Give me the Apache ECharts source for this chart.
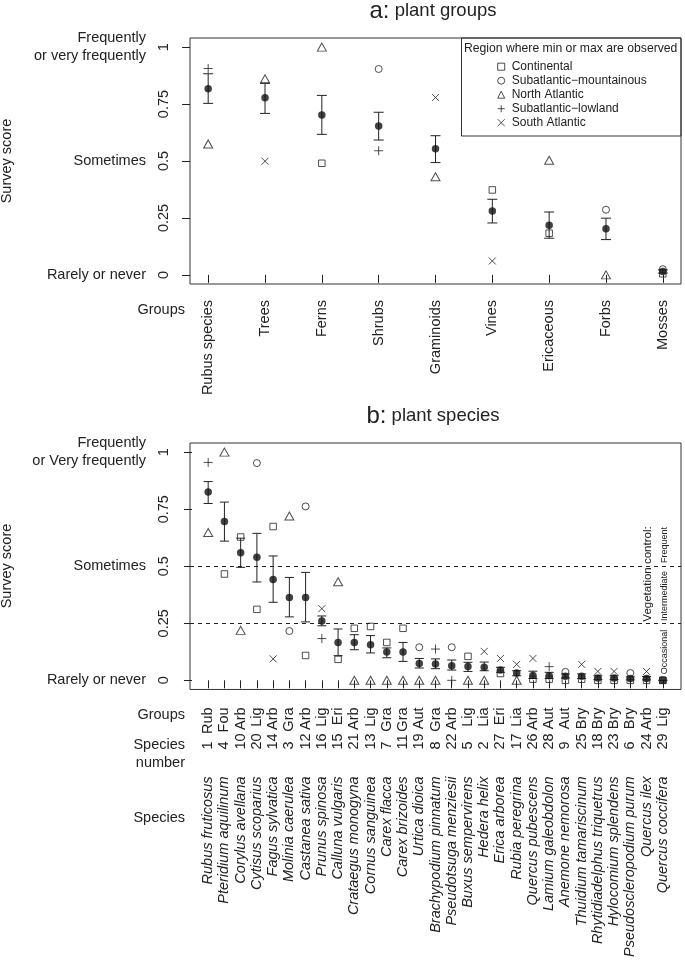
<!DOCTYPE html>
<html>
<head>
<meta charset="utf-8">
<script src="https://cdn.jsdelivr.net/npm/echarts@6/dist/echarts.min.js"></script>
<style>html,body{margin:0;padding:0;background:#fff}#main{width:685px;height:960px}</style>
</head>
<body>
<div id="main"></div>
<script>
// ---------- Panel a: plant groups ----------
const groups = ['Rubus species','Trees','Ferns','Shrubs','Graminoids','Vines','Ericaceous','Forbs','Mosses'];
const groupMean = [0.817,0.778,0.702,0.654,0.554,0.281,0.218,0.203,0.015];
const groupLo   = [0.753,0.709,0.617,0.592,0.493,0.228,0.161,0.155,0.008];
const groupHi   = [0.883,0.841,0.788,0.714,0.611,0.332,0.276,0.249,0.022];
const groupMax    = [0.906,0.861,1.0,0.904,0.779,0.373,0.503,0.286,0.025];
const groupMaxReg = ['L','N','N','M','S','C','N','M','M'];
const groupMin    = [0.575,0.499,0.49,0.545,0.431,0.061,0.183,0.0,0.005];
const groupMinReg = ['N','S','C','L','N','S','C','N','C'];

// ---------- Panel b: plant species ----------
const species = ['Rubus fruticosus','Pteridium aquilinum','Corylus avellana','Cytisus scoparius','Fagus sylvatica','Molinia caerulea','Castanea sativa','Prunus spinosa','Calluna vulgaris','Crataegus monogyna','Cornus sanguinea','Carex flacca','Carex brizoides','Urtica dioica','Brachypodium pinnatum','Pseudotsuga menziesii','Buxus sempervirens','Hedera helix','Erica arborea','Rubia peregrina','Quercus pubescens','Lamium galeobdolon','Anemone nemorosa','Thuidium tamariscinum','Rhytidiadelphus triquetrus','Hylocomium splendens','Pseudoscleropodium purum','Quercus ilex','Quercus coccifera'];
const speciesGroup = ['Rub','Fou','Arb','Lig','Arb','Gra','Arb','Lig','Eri','Arb','Lig','Gra','Gra','Aut','Gra','Arb','Lig','Lia','Eri','Lia','Arb','Aut','Aut','Bry','Bry','Bry','Bry','Arb','Lig'];
const speciesNumber = [1,4,10,20,14,3,12,16,15,21,13,7,11,19,8,22,5,2,27,17,26,28,9,25,18,23,6,24,29];
const spMean = [0.825,0.696,0.559,0.539,0.442,0.363,0.363,0.26,0.166,0.166,0.156,0.124,0.124,0.074,0.072,0.064,0.061,0.057,0.045,0.032,0.021,0.02,0.018,0.018,0.01,0.01,0.008,0.008,0];
const spLo   = [0.775,0.61,0.495,0.431,0.342,0.278,0.256,0.239,0.108,0.134,0.12,0.099,0.083,0.054,0.051,0.045,0.039,0.042,0.035,0.02,0.008,0.008,0.01,0.008,0.003,0.003,0.002,0.002,0];
const spHi   = [0.871,0.781,0.623,0.644,0.545,0.451,0.473,0.282,0.225,0.2,0.196,0.142,0.166,0.096,0.094,0.089,0.079,0.08,0.057,0.042,0.04,0.035,0.028,0.028,0.02,0.02,0.015,0.017,0];
const spMax    = [0.955,1.0,0.628,0.952,0.674,0.72,0.762,0.314,0.432,0.228,0.236,0.166,0.228,0.145,0.137,0.145,0.105,0.127,0.096,0.07,0.096,0.06,0.037,0.07,0.039,0.039,0.032,0.039,0];
const spMaxReg = ['L','N','C','M','C','N','M','S','N','C','C','C','C','M','L','M','C','S','S','S','S','L','M','S','S','S','M','S','C'];
const spMin    = [0.648,0.466,0.219,0.311,0.094,0.216,0.109,0.183,0.092,0,0,0,0,0,0,0,0,0,0.03,0,0.005,0.005,0,0.005,0,0,0,0,0];
const spMinReg = ['N','C','N','C','S','M','C','L','C','N','N','N','N','N','N','L','N','N','C','N','C','C','C','C','C','C','C','C','C'];

// ---------- Axis text ----------
const yTickValues = [0,0.25,0.5,0.75,1];
const yTickLabels = ['0','0.25','0.5','0.75','1'];
const yTextValues = [0,0.5,1];
const yTextLabelsA = ['Rarely or never','Sometimes','Frequently\nor very frequently'];
const yTextLabelsB = ['Rarely or never','Sometimes','Frequently\nor Very frequently'];
const regionCodes = ['C','M','N','L','S'];
const regionNames = ['Continental','Subatlantic\u2212mountainous','North Atlantic','Subatlantic\u2212lowland','South Atlantic'];
const vegControl = ['Frequent','Intermediate','Occasional'];

const FF = '"Liberation Sans", Arial, Helvetica, sans-serif';
const INK = '#222';
const DOT = '#111';

const plusPath = 'path://M5,0L5,10M0,5L10,5';
const crossPath = 'path://M0,0L10,10M10,0L0,10';
const regionSymbol = {C:'rect', M:'circle', N:'triangle', L:plusPath, S:crossPath};
const regionSize = {C:[6.5,6.5], M:7, N:[9,8], L:9, S:7};

const groupIdx = groups.map((g,i)=>i+1);
const spIdx = species.map((s,i)=>i+1);

function errRender(capHalf){
  return function(params, api){
    const x = api.value(0), lo = api.value(1), hi = api.value(2);
    const a = api.coord([x,hi]), b = api.coord([x,lo]);
    const st = {stroke: INK, lineWidth: 1, fill: null};
    return {type:'group', children:[
      {type:'line', shape:{x1:a[0],y1:a[1],x2:b[0],y2:b[1]}, style:st},
      {type:'line', shape:{x1:a[0]-capHalf,y1:a[1],x2:a[0]+capHalf,y2:a[1]}, style:st},
      {type:'line', shape:{x1:b[0]-capHalf,y1:b[1],x2:b[0]+capHalf,y2:b[1]}, style:st}
    ]};
  };
}

function regionSeries(idx, maxV, maxR, minV, minR, xi, yi){
  return regionCodes.map((r,k)=>{
    const data = [];
    idx.forEach((x,i)=>{
      if (maxR[i]===r) data.push([x, maxV[i]]);
      if (minR[i]===r) data.push([x, minV[i]]);
    });
    return {
      type:'scatter', name: regionNames[k], xAxisIndex: xi, yAxisIndex: yi,
      symbol: regionSymbol[r], symbolSize: regionSize[r],
      itemStyle: {color:'rgba(0,0,0,0)', borderColor: INK, borderWidth: 1},
      data, silent: true, z: 4
    };
  });
}

function yAxes(gi, textLabels){
  return [
    {gridIndex: gi, type:'value', min:-0.04, max:1.04, position:'left',
      axisLine:{show:false}, splitLine:{show:false},
      axisTick:{show:true, customValues: yTickValues, length:8, lineStyle:{color:INK}},
      axisLabel:{customValues: yTickValues, rotate:90, margin:19, fontSize:14.5, fontFamily:FF, color:INK,
        formatter:(v)=>yTickLabels[yTickValues.indexOf(v)]}},
    {gridIndex: gi, type:'value', min:-0.04, max:1.04, position:'left',
      axisLine:{show:false}, splitLine:{show:false}, axisTick:{show:false},
      axisLabel:{customValues: yTextValues, margin:44, fontSize:14.5, fontFamily:FF, color:INK, align:'right', lineHeight:17.5,
        formatter:(v)=>textLabels[yTextValues.indexOf(v)]}}
  ];
}

const option = {
  backgroundColor:'#fff',
  animation:false,
  grid:[
    {left:190, top:38, width:491, height:246, show:true, borderColor:'#333', borderWidth:1, backgroundColor:'rgba(0,0,0,0)'},
    {left:190, top:443, width:491, height:247, show:true, borderColor:'#333', borderWidth:1, backgroundColor:'rgba(0,0,0,0)'}
  ],
  xAxis:[
    {gridIndex:0, type:'value', min:0.68, max:9.32, position:'bottom',
      axisLine:{show:false}, splitLine:{show:false},
      axisTick:{show:true, customValues: groupIdx, length:8, lineStyle:{color:INK}},
      axisLabel:{customValues: groupIdx, rotate:90, margin:16, fontSize:14.5, fontFamily:FF, color:INK,
        formatter:(v)=>groups[v-1]}},
    {gridIndex:1, type:'value', min:-0.12, max:30.12, position:'bottom',
      axisLine:{show:false}, splitLine:{show:false},
      axisTick:{show:true, customValues: spIdx, length:8, lineStyle:{color:INK}},
      axisLabel:{customValues: spIdx, rotate:90, margin:18, fontSize:14.5, fontFamily:FF, color:INK,
        formatter:(v)=>speciesGroup[v-1]}},
    {gridIndex:1, type:'value', min:-0.12, max:30.12, position:'bottom', offset:0,
      axisLine:{show:false}, splitLine:{show:false}, axisTick:{show:false},
      axisLabel:{customValues: spIdx, rotate:90, margin:60, align:'left', fontSize:14.5, fontFamily:FF, color:INK,
        formatter:(v)=>String(speciesNumber[v-1])}},
    {gridIndex:1, type:'value', min:-0.12, max:30.12, position:'bottom', offset:0,
      axisLine:{show:false}, splitLine:{show:false}, axisTick:{show:false},
      axisLabel:{customValues: spIdx, rotate:90, margin:87, fontSize:14.5, fontStyle:'italic', fontFamily:FF, color:INK,
        formatter:(v)=>species[v-1]}}
  ],
  yAxis: yAxes(0, yTextLabelsA).concat(yAxes(1, yTextLabelsB)),
  legend:{
    orient:'vertical', left:497.2, top:59.7, padding:0, itemGap:0, itemWidth:7, itemHeight:7,
    data: regionNames, selectedMode:false,
    itemStyle:{color:'rgba(0,0,0,0)', borderColor:INK, borderWidth:1},
    textStyle:{fontSize:12, fontFamily:FF, color:INK, lineHeight:14, padding:[0,0,0,2]}
  },
  series: [
    {type:'custom', xAxisIndex:0, yAxisIndex:0, renderItem: errRender(5), silent:true, z:2,
      encode:{x:0, y:[1,2]}, data: groupIdx.map((x,i)=>[x, groupLo[i], groupHi[i]])},
    {type:'scatter', xAxisIndex:0, yAxisIndex:0, symbol:'circle', symbolSize:7.5, silent:true, z:3,
      itemStyle:{color:DOT}, data: groupIdx.map((x,i)=>[x, groupMean[i]])},
    ...regionSeries(groupIdx, groupMax, groupMaxReg, groupMin, groupMinReg, 0, 0),
    {type:'custom', xAxisIndex:1, yAxisIndex:2, renderItem: errRender(4.5), silent:true, z:2,
      encode:{x:0, y:[1,2]}, data: spIdx.map((x,i)=>[x, spLo[i], spHi[i]])},
    {type:'scatter', xAxisIndex:1, yAxisIndex:2, symbol:'circle', symbolSize:7.5, silent:true, z:3,
      itemStyle:{color:DOT}, data: spIdx.map((x,i)=>[x, spMean[i]]),
      markLine:{silent:true, symbol:'none', label:{show:false},
        lineStyle:{type:[4,4], color:INK, width:1},
        data:[{yAxis:0.5},{yAxis:0.25}]}},
    ...regionSeries(spIdx, spMax, spMaxReg, spMin, spMinReg, 1, 2)
  ],
  graphic:[
    {type:'text', x:433, y:23, style:{text:'{a|a:}{b| plant groups}', align:'center', verticalAlign:'bottom',
      rich:{a:{fontSize:24, fontFamily:FF, fill:INK}, b:{fontSize:18.5, fontFamily:FF, fill:INK}}}},
    {type:'text', x:433, y:428, style:{text:'{a|b:}{b| plant species}', align:'center', verticalAlign:'bottom',
      rich:{a:{fontSize:24, fontFamily:FF, fill:INK}, b:{fontSize:18.5, fontFamily:FF, fill:INK}}}},
    {type:'text', x:7, y:161, rotation:Math.PI/2, style:{text:'Survey score', align:'center', verticalAlign:'middle', fontSize:14.5, fontFamily:FF, fill:INK}},
    {type:'text', x:7, y:566, rotation:Math.PI/2, style:{text:'Survey score', align:'center', verticalAlign:'middle', fontSize:14.5, fontFamily:FF, fill:INK}},
    {type:'text', x:185, y:310, style:{text:'Groups', align:'right', verticalAlign:'middle', fontSize:14.5, fontFamily:FF, fill:INK}},
    {type:'text', x:185, y:715, style:{text:'Groups', align:'right', verticalAlign:'middle', fontSize:14.5, fontFamily:FF, fill:INK}},
    {type:'text', x:185, y:754, style:{text:'Species\nnumber', align:'right', verticalAlign:'middle', lineHeight:18, fontSize:14.5, fontFamily:FF, fill:INK}},
    {type:'text', x:185, y:818, style:{text:'Species', align:'right', verticalAlign:'middle', fontSize:14.5, fontFamily:FF, fill:INK}},
    {type:'rect', shape:{x:461.5, y:38, width:219.5, height:98}, style:{fill:'#fff', stroke:'#333', lineWidth:1}, z:-1, zlevel:0},
    {type:'text', x:464, y:48.5, style:{text:'Region where min or max are observed', align:'left', verticalAlign:'middle', fontSize:12.2, fontFamily:FF, fill:INK}},
    {type:'text', x:648, y:574, rotation:Math.PI/2, style:{text:'Vegetation control:', align:'center', verticalAlign:'middle', fontSize:11.5, fontFamily:FF, fill:INK}},
    {type:'text', x:664.5, y:545, rotation:Math.PI/2, style:{text:vegControl[0], align:'center', verticalAlign:'middle', fontSize:9, fontFamily:FF, fill:INK}},
    {type:'text', x:664.5, y:596, rotation:Math.PI/2, style:{text:vegControl[1], align:'center', verticalAlign:'middle', fontSize:9, fontFamily:FF, fill:INK}},
    {type:'text', x:664.5, y:652, rotation:Math.PI/2, style:{text:vegControl[2], align:'center', verticalAlign:'middle', fontSize:9, fontFamily:FF, fill:INK}}
  ]
};

const chart = echarts.init(document.getElementById('main'), null, {renderer:'canvas', width:685, height:960});
chart.setOption(option);
</script>
</body>
</html>
